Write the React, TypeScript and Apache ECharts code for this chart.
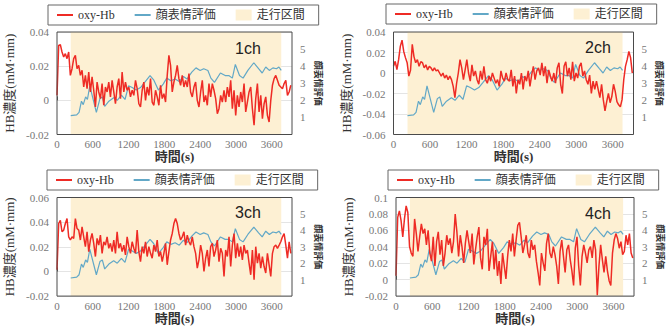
import React, { useEffect, useRef } from "react";
import * as echarts from "echarts";

// ---- data ----
const STEP = 28; // sampling interval (s) of the oxy-Hb traces
const X_MAX = 3940;
const RUN_START = 230;
const RUN_END = 3760;

const channelNames = ["1ch", "2ch", "3ch", "4ch"];
const hbMin = [-0.02, -0.06, -0.02, -0.02];
const hbMax = [0.04, 0.04, 0.06, 0.1];

const faceTime = [230, 330, 370, 410, 440, 480, 510, 550, 610, 660, 720, 760, 800, 870, 950, 1010, 1080, 1140, 1200, 1260, 1330, 1400, 1470, 1560, 1620, 1700, 1780, 1840, 1910, 1980, 2050, 2120, 2180, 2260, 2330, 2400, 2460, 2530, 2580, 2640, 2740, 2820, 2880, 2940, 2990, 3060, 3120, 3200, 3300, 3380, 3440, 3500, 3560, 3620, 3680, 3720, 3760];
const faceScore = [1.1, 1.15, 1.3, 1.95, 1.75, 2.2, 2.05, 2.85, 2.0, 1.3, 2.1, 2.2, 1.65, 1.95, 2.15, 2.0, 2.3, 2.05, 2.85, 2.75, 2.6, 2.75, 3.05, 3.45, 3.2, 2.6, 2.95, 3.3, 3.15, 3.25, 3.1, 3.4, 3.25, 3.65, 3.9, 3.75, 3.85, 3.75, 3.3, 3.05, 3.6, 3.45, 3.45, 3.3, 4.1, 3.45, 3.3, 3.75, 4.2, 3.85, 3.6, 3.95, 3.75, 3.9, 3.85, 3.95, 3.75];

const oxyHb1 = [
  0.0029, 0.0322, 0.0326, 0.0283, 0.0254, 0.0273, 0.0244, 0.0283, 0.0146, 0.0185,
  0.0244, 0.0263, 0.0185, 0.0205, 0.0146, 0.0176, 0.0078, 0.0146, 0.0068, 0.0166,
  0.0049, 0.0137, 0.0059, -0.0039, 0.0107, 0.0049, 0.001, 0.0098, -0.0029, 0.0078,
  0.0049, 0.0107, 0.002, 0.0117, 0.0049, -0.002, 0.0078, 0.0127, 0.001, 0.0166,
  0.0049, 0.0107, 0.0059, 0.0078, 0.002, 0.0059, 0.0029, 0.0117, 0.0068, -0.002,
  -0.0039, 0.0059, 0.0107, 0, 0.0078, 0.0029, 0.0127, -0.001, -0.0029, 0.0059,
  0.002, -0.0029, 0.0088, 0.001, 0.0039, -0.001, 0.0146, 0.0263, 0.0205, 0.0049,
  0.0107, 0.0146, 0.0205, 0.0127, 0.0088, 0.0146, 0.0078, 0.0117, 0.0078, 0.0156,
  0.0049, 0.002, 0.0078, 0.0107, 0, -0.0039, 0.0049, 0.0117, -0.001, 0.0029,
  -0.0029, 0.0098, 0.002, 0.0098, 0.0059, 0.001, -0.0078, -0.0049, 0.0029, -0.001,
  0.0059, -0.001, 0.0078, 0.002, 0.0117, -0.0049, 0.0059, -0.0088, 0.0029, -0.0039,
  0.0049, -0.001, 0.0098, -0.0068, -0.001, 0.0049, 0.0078, -0.0049, -0.0146, 0.001,
  0.0098, -0.0068, 0.0029, -0.0107, -0.002, 0.002, -0.0088, -0.0127, 0, 0.0088,
  0.0127, 0.0146, 0.0117, 0.0088, 0.0078, 0.0068, 0.0098, 0.0117, 0.0029, 0.0049,
  0.0088,
];

const oxyHb2 = [
  0.0065, 0.0114, 0.0033, 0.013, 0.026, 0.032, 0.021, 0.015, 0.010, -0.003,
  0.003, 0.028, 0.016, 0.010, 0.013, 0.0065, 0.011, 0.010, 0.005, 0.008,
  0.003, 0.0065, 0.005, 0.002, 0.005, 0.002, 0.003, 0, -0.003, 0,
  -0.005, -0.002, -0.0065, -0.003, -0.0065, -0.013, -0.024, -0.010, 0, 0.013,
  0.005, -0.0065, 0.003, 0.013, 0, -0.008, 0.008, -0.003, 0.002, -0.0065,
  -0.011, 0.002, -0.0065, 0.0065, -0.0065, -0.010, -0.003, -0.008, 0, -0.005,
  -0.010, -0.0065, -0.013, 0.002, -0.005, -0.008, 0, -0.0065,
  -0.008, 0.003, -0.013, -0.003, -0.020, -0.0065, -0.011, 0, -0.016, -0.003,
  -0.008, 0.002, -0.013, -0.002, 0.0065, -0.0065, 0.002, 0.005, -0.002, 0.010,
  -0.003, 0.0065, -0.010, 0.003, -0.003, -0.008, 0, -0.010, 0.005, 0.010,
  -0.011, -0.020, 0.0065, 0.011, -0.003, 0.005, -0.0065, 0.011, -0.008, 0,
  -0.005, 0.0065, 0.010, -0.003, 0.002, -0.0065, -0.011, -0.002, -0.020, -0.008,
  -0.016, -0.008, -0.016, -0.024, -0.011, -0.026, -0.037, -0.028, -0.020, -0.029,
  -0.023, -0.011, -0.018, -0.028, -0.031, -0.033, -0.026, -0.0065, 0.0065, 0.013,
  0.021, 0.015, 0,
];

const oxyHb3 = [
  0.0013, 0.0389, 0.0415, 0.0322, 0.0335, 0.0389, 0.0429, 0.0281, 0.0255, 0.0281,
  0.0268, 0.0429, 0.0348, 0.0335, 0.0255, 0.0362, 0.0281, 0.0201, 0.0322, 0.0161,
  0.0255, 0.0308, 0.0228, 0.0121, 0.0268, 0.0214, 0.0295, 0.0147, 0.0241, 0.0214,
  0.0281, 0.0188, 0.0228, 0.0161, 0.0255, 0.0147, 0.0322, 0.0188, 0.0228, 0.0161,
  0.0214, 0.0134, 0.0281, 0.0201, 0.0147, 0.0241, 0.0188, 0.0147, 0.0335, 0.0161,
  0.008, 0.0201, 0.0147, 0.0241, 0.0121, 0.0201, 0.0147, 0.0107, 0.0214, 0.0161,
  0.0255, 0.0121, 0.0161, 0.008, 0.0147, 0.0228, 0.0054, 0.0161, 0.0255, 0.0308,
  0.0389,
  0.0429, 0.0389, 0.0308, 0.0255, 0.0281, 0.0322, 0.0214, 0.0295, 0.0241, 0.0214,
  0.0281, 0.0201, 0.0147, 0.0027, 0.0094, 0.0214, 0.0147, 0, 0.0107, 0.0174,
  0.004, 0.0201, 0.0228, 0.0121, 0.0174, 0.0255, 0.008, 0.0188, 0.0147, -0.004,
  0.0174, 0.0121, 0.0281, 0.004, 0.0214, 0.0308, 0.0107, 0.0228, 0.0121, 0.0201,
  0.0094, 0.0214, 0.0147, 0.0174, 0.0067, -0.0027, 0.0174, -0.0067, 0.0201, 0.0067,
  0.0147, 0.0027, 0.0121, 0.004, -0.0013, 0.0147, 0.0054, -0.004, 0.0147, 0.0201,
  0.0214, 0.0188, 0.0214, 0.0241, 0.0281, 0.0308, 0.0214, 0.0107, 0.0241, 0.0147,
];

const oxyHb4 = [
  0.0047, 0.0758, 0.0837, 0.0719, 0.0521, 0.0739, 0.0897, 0.0818, 0.0403, 0.0324,
  0.0284, 0.0739, 0.0561, 0.0344, 0.0521, 0.0679, 0.0561, 0.062, 0.0423, 0.06,
  0.0324, 0.0225, 0.0521, 0.0166, 0.0462, 0.0581, 0.0304, 0.0482, 0.0166, 0.0324,
  0.0541, 0.0423, 0.0502, 0.0324, 0.0462, 0.0798, 0.0581, 0.0284, 0.0541, 0.0403,
  0.0205, 0.0442, 0.06, 0.0462, 0.0324, 0.0561, 0.0186, 0.0363, 0.0521, 0.064,
  0.0265, 0.0126, 0.0521, 0.0423, 0.062, 0.0107, 0.0284, 0.0462, 0.0126, 0.0363,
  0.0047, 0.0225, -0.0051, 0.0324, 0.0166, 0.0008, 0.0284, 0.0482, 0.0344, 0.0561,
  0.0284,
  0.0482, 0.066, 0.0699, 0.0521, 0.0324, 0.0423, 0.0541, 0.0324, 0.0265, 0.0482,
  0.0363, 0.0423, 0.0225, 0.0087, -0.0071, 0.0324, 0.0205, 0.0107, 0.0442, 0.0561,
  0.0324, 0.0265, 0.0403, 0.0304, 0.0166, -0.0051, 0.0344, 0.0482, 0.0284, 0.0087,
  0.0363, 0.0423, 0.0245, 0.0107, -0.0071, 0.0383, 0.0521, 0.0166, -0.0071, 0.0284,
  0.0423, 0.0324, 0.0205, 0.0363, 0.0403, 0.0265, 0.0482, 0.0363, -0.019, 0.0166,
  0.0423, 0.0245, 0.0087, 0.0284, 0.0107, -0.0012, -0.0071, 0.0324, 0.0482, 0.0561,
  0.0502, 0.0383, 0.0462, 0.0304, 0.0344, 0.0541, 0.0423, 0.0561, 0.0324, 0.0265,
];

const oxyHbAll = [oxyHb1, oxyHb2, oxyHb3, oxyHb4];

// ---- layout / style ----
const RED = "#ee2b25";
const BLUE = "#62a8c7";
const BEIGE = "#fdf0d3";
const SERIF = "'Liberation Serif', 'Noto Sans CJK JP', serif";
const CJK = "'Noto Sans CJK JP', sans-serif";
const LINE_ICON = "path://M0,0H16V2H0Z";

const layout = [
  { grid: { left: 57, top: 32, width: 235, height: 102.5 }, legend: { left: 48, top: 5 }, label: { x: 248, y: 48 } },
  { grid: { left: 393.5, top: 32, width: 240, height: 102.5 }, legend: { left: 386, top: 4 }, label: { x: 598, y: 47 } },
  { grid: { left: 57, top: 197.5, width: 235, height: 102 }, legend: { left: 47, top: 170 }, label: { x: 248, y: 212 } },
  { grid: { left: 396, top: 197.5, width: 238, height: 102.5 }, legend: { left: 388, top: 170 }, label: { x: 598, y: 213 } },
];

function fmtHb(v: number) {
  const r = Math.round(v * 1000) / 1000;
  return r === 0 ? "0" : String(r);
}

function buildOption() {
  const grid: any[] = [];
  const xAxis: any[] = [];
  const yAxis: any[] = [];
  const series: any[] = [];
  const legend: any[] = [];
  const graphic: any[] = [];

  layout.forEach((L, i) => {
    grid.push({ ...L.grid, show: true, borderColor: "#4a4a4a", borderWidth: 1, backgroundColor: "transparent", z: 5 });
    xAxis.push({
      gridIndex: i,
      type: "value",
      min: 0,
      max: X_MAX,
      interval: 600,
      name: "時間(s)",
      nameLocation: "middle",
      nameGap: 13,
      nameTextStyle: { fontFamily: SERIF, fontSize: 13, fontWeight: "bold", color: "#333" },
      axisLine: { show: false },
      axisTick: { show: true, inside: true, length: 4, lineStyle: { color: "#555" } },
      splitLine: { show: false },
      axisLabel: {
        showMaxLabel: false,
        margin: 4,
        fontFamily: SERIF,
        fontSize: 11,
        color: "#777",
        formatter: (v: number) => (v % 600 === 0 ? String(v) : ""),
      },
    });
    yAxis.push({
      gridIndex: i,
      type: "value",
      position: "left",
      min: hbMin[i],
      max: hbMax[i],
      interval: 0.02,
      name: "HB濃度(mM·mm)",
      nameLocation: "middle",
      nameGap: 41,
      nameRotate: 90,
      nameTextStyle: { fontFamily: SERIF, fontSize: 13, color: "#333" },
      axisLine: { show: false },
      axisTick: { show: false },
      splitLine: { show: true, lineStyle: { color: "#e4e4e4", width: 1 } },
      axisLabel: { fontFamily: SERIF, fontSize: 11, color: "#777", margin: 8, formatter: fmtHb },
    });
    yAxis.push({
      gridIndex: i,
      type: "value",
      position: "right",
      min: 0,
      max: 6,
      interval: 1,
      name: "顔表情評価",
      nameLocation: "middle",
      nameGap: 26,
      nameRotate: -90,
      nameTextStyle: {
        fontFamily: CJK,
        fontSize: 9,
        fontWeight: "bold",
        color: "#333",
        align: "center",
        verticalAlign: "middle",
      },
      axisLine: { show: false },
      axisTick: { show: false },
      splitLine: { show: false },
      axisLabel: {
        fontFamily: SERIF,
        fontSize: 11,
        color: "#777",
        margin: 8,
        formatter: (v: number) => (v >= 1 && v <= 5 ? String(v) : ""),
      },
    });

    series.push({
      name: "走行区間",
      type: "line",
      xAxisIndex: i,
      yAxisIndex: 2 * i + 1,
      data: [
        [RUN_START, 6],
        [RUN_END, 6],
      ],
      symbol: "none",
      color: BEIGE,
      lineStyle: { width: 0, color: BEIGE },
      areaStyle: { color: BEIGE, opacity: 1, origin: "start" },
      silent: true,
      z: 1,
    });
    series.push({
      name: "顔表情評価",
      type: "line",
      xAxisIndex: i,
      yAxisIndex: 2 * i + 1,
      data: faceTime.map((t, k) => [t, faceScore[k]]),
      symbol: "none",
      color: BLUE,
      lineStyle: { color: BLUE, width: 1.2 },
      z: 2,
    });
    series.push({
      name: "oxy-Hb",
      type: "line",
      xAxisIndex: i,
      yAxisIndex: 2 * i,
      data: oxyHbAll[i].map((v, k) => [k * STEP, v]),
      symbol: "none",
      color: RED,
      lineStyle: { color: RED, width: 1.5 },
      z: 3,
    });

    legend.push({
      ...L.legend,
      orient: "horizontal",
      selectedMode: false,
      data: [
        { name: "oxy-Hb", icon: LINE_ICON },
        { name: "顔表情評価", icon: LINE_ICON },
        { name: "走行区間", icon: "rect" },
      ],
      itemWidth: 16,
      itemHeight: 11,
      itemGap: 20,
      padding: [4, 14, 4, 9],
      borderColor: "#666",
      borderWidth: 1,
      backgroundColor: "#fff",
      textStyle: { fontFamily: SERIF, fontSize: 12, color: "#333" },
    });

    graphic.push({
      type: "text",
      x: L.label.x,
      y: L.label.y,
      z: 10,
      style: {
        text: channelNames[i],
        fontFamily: "'Liberation Sans', Arial, sans-serif",
        fontSize: 16,
        fill: "#222",
        textAlign: "center",
        textVerticalAlign: "middle",
      },
    });
  });

  return { animation: false, backgroundColor: "#fff", grid, xAxis, yAxis, series, legend, graphic };
}

export default function App() {
  const ref = useRef<HTMLDivElement>(null);
  useEffect(() => {
    document.body.style.margin = "0";
    if (!ref.current) return;
    const chart = echarts.init(ref.current, undefined, { renderer: "svg" });
    chart.setOption(buildOption() as any);
    return () => chart.dispose();
  }, []);
  return <div ref={ref} style={{ width: 672, height: 326 }} />;
}
